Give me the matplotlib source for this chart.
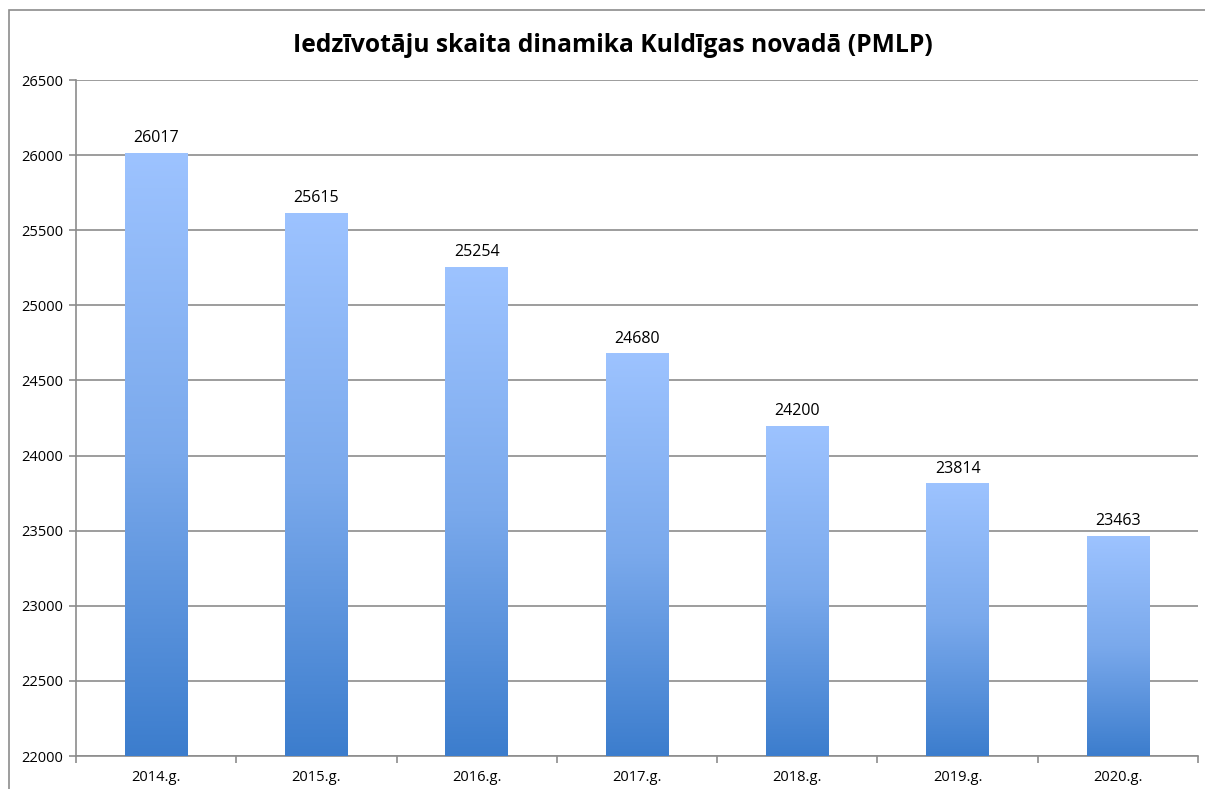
import numpy as np
import matplotlib.pyplot as plt
from matplotlib.colors import LinearSegmentedColormap
from matplotlib.patches import Rectangle

years = ['2014.g.', '2015.g.', '2016.g.', '2017.g.', '2018.g.', '2019.g.', '2020.g.']
population = [26017, 25615, 25254, 24680, 24200, 23814, 23463]
title = 'Iedzīvotāju skaita dinamika Kuldīgas novadā (PMLP)'

plt.rcParams['font.family'] = ['Open Sans', 'DejaVu Sans']

fig = plt.figure(figsize=(12.05, 7.89), dpi=100)
ax = fig.add_axes([76 / 1205, 33 / 789, 1122 / 1205, 676 / 789])

# outer chart border (only left and top edges are visible in the crop)
fig.patches.append(Rectangle((9 / 1205, -0.05), 1.1, (789 - 10) / 789 + 0.05,
                             transform=fig.transFigure, fill=False,
                             edgecolor='#8c8c8c', linewidth=1.2))

x = np.arange(len(years))
bars = ax.bar(x, population, width=0.39, color='none', edgecolor='none', zorder=3)

cmap = LinearSegmentedColormap.from_list('blue', ['#3c7dcd', '#7aa9ec', '#9dc3ff'])
grad = np.linspace(0, 1, 256).reshape(-1, 1)
for b in bars:
    x0, y0 = b.get_x(), 22000
    x1, y1 = b.get_x() + b.get_width(), b.get_height()
    im = ax.imshow(grad, cmap=cmap, origin='lower', aspect='auto',
                   extent=[x0, x1, y0, y1], zorder=3)
    im.set_clip_path(b)
    ax.text(b.get_x() + b.get_width() / 2, b.get_height() + 45, str(int(b.get_height())),
            ha='center', va='bottom', fontsize=11.5, color='black', zorder=4)

ax.set_xlim(-0.5, len(years) - 0.5)
ax.set_ylim(22000, 26500)

ax.set_yticks(np.arange(22000, 26501, 500))
ax.yaxis.grid(True, color='#8c8c8c', linewidth=1.2, zorder=0)
ax.set_axisbelow(True)

ax.set_xticks(x)
ax.set_xticklabels(years, fontsize=10.5)
ax.set_xticks(np.arange(-0.5, len(years), 1), minor=True)
ax.tick_params(axis='x', which='major', length=0, pad=10)
ax.tick_params(axis='x', which='minor', length=5, color='#8c8c8c', width=1.2)
ax.tick_params(axis='y', length=5, color='#8c8c8c', width=1.2, labelsize=10.5, pad=4)

for s in ['top', 'right']:
    ax.spines[s].set_visible(False)
for s in ['left', 'bottom']:
    ax.spines[s].set_color('#8c8c8c')
    ax.spines[s].set_linewidth(1.2)

fig.text(613 / 1205, (789 - 45) / 789, title, ha='center', va='center',
         fontsize=17.7, fontweight='bold')

fig.savefig('out.png', dpi=100)
